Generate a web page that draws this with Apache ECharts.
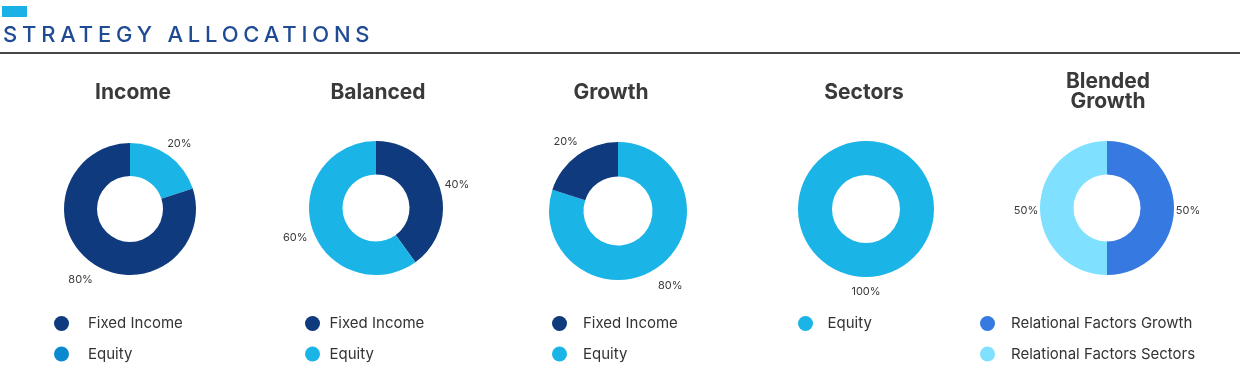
<!DOCTYPE html>
<html>
<head>
<meta charset="utf-8">
<title>Strategy Allocations</title>
<script src="https://cdn.jsdelivr.net/npm/echarts@6/dist/echarts.min.js"></script>
<style>
  html, body { margin: 0; padding: 0; background: #fff; }
  #wrap { position: relative; width: 1240px; height: 377px; }
  #main { width: 1240px; height: 377px; }
  #heading {
    position: absolute; left: 3px; top: 23px;
    font-family: Inter, "Noto Sans", sans-serif; font-weight: 500;
    font-size: 22px; line-height: 22px; letter-spacing: 4.8px;
    color: #1f4a94; white-space: nowrap;
  }
</style>
</head>
<body>
<div id="wrap">
  <div id="main"></div>
  <div id="heading">STRATEGY ALLOCATIONS</div>
</div>
<script>
// 数据 - 每个策略的配置（百分比）
var chartTitles = ['Income', 'Balanced', 'Growth', 'Sectors', 'Blended\nGrowth'];

var incomeNames = ['Equity', 'Fixed Income'];
var incomeValues = [20, 80];
var balancedNames = ['Fixed Income', 'Equity'];
var balancedValues = [40, 60];
var growthNames = ['Equity', 'Fixed Income'];
var growthValues = [80, 20];
var sectorsNames = ['Equity'];
var sectorsValues = [100];
var blendedNames = ['Relational Factors Growth', 'Relational Factors Sectors'];
var blendedValues = [50, 50];

// 图例顺序
var incomeLegend = ['Fixed Income', 'Equity'];
var balancedLegend = ['Fixed Income', 'Equity'];
var growthLegend = ['Fixed Income', 'Equity'];
var sectorsLegend = ['Equity'];
var blendedLegend = ['Relational Factors Growth', 'Relational Factors Sectors'];

// 颜色
var colorMap = {
  'Fixed Income': '#0f3a7e',
  'Equity': '#1bb4e6',
  'Relational Factors Growth': '#3679e0',
  'Relational Factors Sectors': '#7fe0ff'
};
var incomeEquityLegendColor = '#0a89cf'; // Income 图例里的 Equity 颜色不一样

var fontFamily = 'Inter, "Noto Sans", sans-serif';

// 每个图表的位置
var panels = [
  { names: incomeNames, values: incomeValues, legend: incomeLegend, cx: 130, cy: 209, r: 66, labelLen: 18, titleX: 133, legendLeft: 54, legendW: 43 },
  { names: balancedNames, values: balancedValues, legend: balancedLegend, cx: 376, cy: 208, r: 67, labelLen: 18, titleX: 378, legendLeft: 305, legendW: 24 },
  { names: growthNames, values: growthValues, legend: growthLegend, cx: 618, cy: 211, r: 69, labelLen: 20, titleX: 611, legendLeft: 552, legendW: 37 },
  { names: sectorsNames, values: sectorsValues, legend: sectorsLegend, cx: 866, cy: 209, r: 68, labelLen: 12, titleX: 864, legendLeft: 798, legendW: 34 },
  { names: blendedNames, values: blendedValues, legend: blendedLegend, cx: 1107, cy: 208, r: 67, labelLen: 14, titleX: 1108, legendLeft: 980, legendW: 37 }
];

var titles = [], legends = [], series = [];

panels.forEach(function(p, i) {
  var twoLines = chartTitles[i].indexOf('\n') >= 0;
  titles.push({
    text: chartTitles[i],
    left: p.titleX,
    top: twoLines ? 72 : 83,
    textAlign: 'center',
    padding: 0,
    textStyle: {
      fontFamily: fontFamily,
      fontWeight: 700,
      fontSize: 21,
      lineHeight: 20,
      color: '#3a3a3a'
    }
  });

  legends.push({
    orient: 'vertical',
    left: p.legendLeft,
    top: 316,
    padding: 0,
    itemWidth: p.legendW,
    itemHeight: 15,
    itemGap: 15.5,
    icon: 'circle',
    selectedMode: false,
    textStyle: { fontFamily: fontFamily, fontSize: 15, color: '#333' },
    data: p.legend.map(function(name) {
      var color = (i === 0 && name === 'Equity') ? incomeEquityLegendColor : colorMap[name];
      return { name: name, itemStyle: { color: color } };
    })
  });

  series.push({
    name: chartTitles[i].replace('\n', ' '),
    type: 'pie',
    center: [p.cx, p.cy],
    radius: [p.r / 2, p.r],
    startAngle: 90,
    clockwise: true,
    avoidLabelOverlap: false,
    animation: false,
    silent: true,
    label: {
      show: true,
      position: 'outside',
      formatter: '{c}%',
      fontFamily: fontFamily,
      fontSize: 11,
      color: '#3a3a3a',
      distanceToLabelLine: 0
    },
    labelLine: { show: false, length: p.labelLen, length2: 0 },
    labelLayout: { align: 'center', verticalAlign: 'middle', dy: 3 },
    data: p.names.map(function(name, k) {
      return { name: name, value: p.values[k], itemStyle: { color: colorMap[name] } };
    })
  });
});

var chart = echarts.init(document.getElementById('main'), null, { renderer: 'canvas' });
chart.setOption({
  backgroundColor: '#fff',
  animation: false,
  title: titles,
  legend: legends,
  graphic: [
    // 左上角小蓝条
    { type: 'rect', left: 2, top: 6, shape: { width: 25, height: 11 }, style: { fill: '#1ab2e6' } },
    // 标题下方横线
    { type: 'rect', left: 0, top: 52, shape: { width: 1240, height: 2 }, style: { fill: '#474747' } }
  ],
  series: series
});
</script>
</body>
</html>
